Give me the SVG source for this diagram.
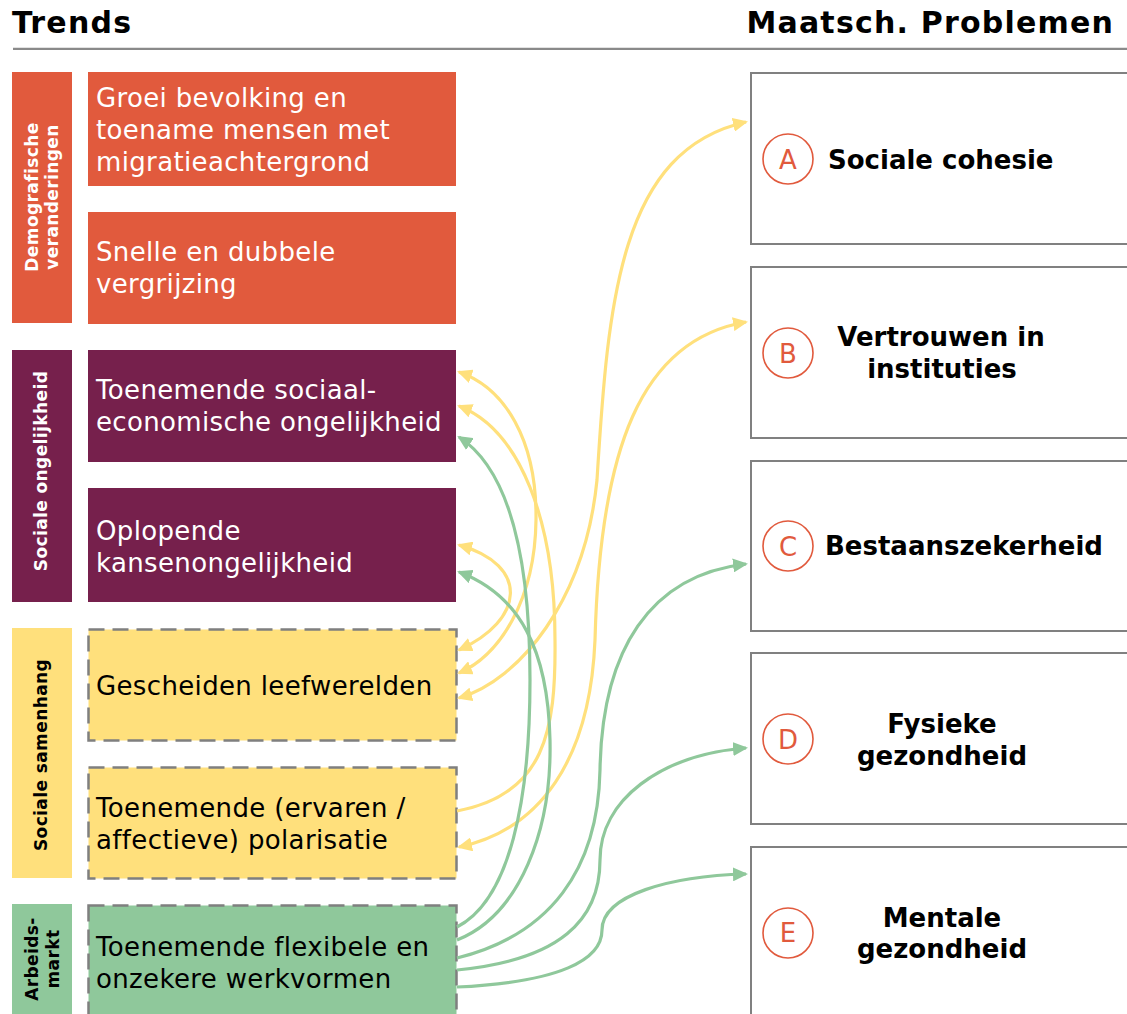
<svg xmlns="http://www.w3.org/2000/svg" width="1127" height="1014" viewBox="0 0 1127 1014">
<style>
.cat{font-family:"DejaVu Sans","Verdana",sans-serif;font-weight:bold;font-size:17px;letter-spacing:0.4px;fill:#fff;text-anchor:middle}
.catd{fill:#000}
.tr{font-family:"DejaVu Sans","Verdana",sans-serif;font-size:26px;letter-spacing:0.35px;fill:#fff}
.trd{fill:#000}
.pb{font-family:"DejaVu Sans","Verdana",sans-serif;font-weight:bold;font-size:26px;fill:#000}
.mid{text-anchor:middle}
.hd{font-family:"DejaVu Sans","Verdana",sans-serif;font-weight:bold;font-size:30px;letter-spacing:1.2px;fill:#000}
.box{fill:#fff;stroke:#808080;stroke-width:2}
.dash{stroke:#7f7f7f;stroke-width:2.5;stroke-dasharray:16 8}
.circ{fill:#fff;stroke:#E15A3D;stroke-width:1.6}
.let{font-family:"DejaVu Sans","Verdana",sans-serif;font-size:26px;fill:#E15A3D;text-anchor:middle}
.cy{fill:none;stroke:#FFE07C;stroke-width:3.2}
.cg{fill:none;stroke:#8FC89B;stroke-width:3.2}
</style>
<defs>
<marker id="ay" viewBox="0 0 15 14" refX="13" refY="7" markerWidth="15" markerHeight="14" markerUnits="userSpaceOnUse" orient="auto-start-reverse"><path d="M0,0 L15,7 L0,14 z" fill="#FFE07C"/></marker>
<marker id="ag" viewBox="0 0 15 14" refX="13" refY="7" markerWidth="15" markerHeight="14" markerUnits="userSpaceOnUse" orient="auto-start-reverse"><path d="M0,0 L15,7 L0,14 z" fill="#8FC89B"/></marker>
</defs>
<rect width="1127" height="1014" fill="#fff"/>

<g id="header">
<text class="hd" x="12" y="33">Trends</text>
<text class="hd" x="1114" y="33" text-anchor="end">Maatsch. Problemen</text>
<line x1="13" y1="48.8" x2="1127" y2="48.8" stroke="#8a8a8a" stroke-width="2.3"/>
</g>

<g id="cat-demografisch">
<rect x="12" y="72" width="60" height="251" fill="#E15A3D"/>
<g transform="translate(0,197) rotate(-90)"><text class="cat" x="0" y="38">Demografische</text><text class="cat" x="0" y="58">veranderingen</text></g>
</g>
<g id="cat-ongelijkheid">
<rect x="12" y="350" width="60" height="252" fill="#76204C"/>
<g transform="translate(0,471) rotate(-90)"><text class="cat" x="0" y="47">Sociale ongelijkheid</text></g>
</g>
<g id="cat-samenhang">
<rect x="12" y="628" width="60" height="250" fill="#FFE07C"/>
<g transform="translate(0,755) rotate(-90)"><text class="cat catd" x="0" y="47">Sociale samenhang</text></g>
</g>
<g id="cat-arbeidsmarkt">
<rect x="12" y="904" width="60" height="115" fill="#8FC89B"/>
<g transform="translate(0,959) rotate(-90)"><text class="cat catd" x="0" y="37.5">Arbeids-</text><text class="cat catd" x="0" y="58.5">markt</text></g>
</g>

<g id="t-groei">
<rect x="88" y="72" width="368" height="114" fill="#E15A3D"/>
<text class="tr" x="96" y="107">Groei bevolking en</text>
<text class="tr" x="96" y="139">toename mensen met</text>
<text class="tr" x="96" y="171">migratieachtergrond</text>
</g>
<g id="t-vergrijzing">
<rect x="88" y="212" width="368" height="112" fill="#E15A3D"/>
<text class="tr" x="96" y="261">Snelle en dubbele</text>
<text class="tr" x="96" y="293">vergrijzing</text>
</g>
<g id="t-sociaaleconomisch">
<rect x="88" y="350" width="368" height="112" fill="#76204C"/>
<text class="tr" x="96" y="399">Toenemende sociaal-</text>
<text class="tr" x="96" y="431">economische ongelijkheid</text>
</g>
<g id="t-kansen">
<rect x="88" y="488" width="368" height="114" fill="#76204C"/>
<text class="tr" x="96" y="540">Oplopende</text>
<text class="tr" x="96" y="572">kansenongelijkheid</text>
</g>
<g id="t-gescheiden">
<rect x="88.5" y="629.5" width="368" height="111" fill="#FFE07C" class="dash"/>
<text class="tr trd" x="96" y="695">Gescheiden leefwerelden</text>
</g>
<g id="t-polarisatie">
<rect x="88.5" y="767.5" width="368" height="111" fill="#FFE07C" class="dash"/>
<text class="tr trd" x="96" y="817">Toenemende (ervaren /</text>
<text class="tr trd" x="96" y="849">affectieve) polarisatie</text>
</g>
<g id="t-werkvormen">
<rect x="88.5" y="905.5" width="368" height="120" fill="#8FC89B" class="dash"/>
<text class="tr trd" x="96" y="956">Toenemende flexibele en</text>
<text class="tr trd" x="96" y="988">onzekere werkvormen</text>
</g>

<g id="p-A">
<rect class="box" x="751" y="73" width="400" height="171"/>
<circle class="circ" cx="788" cy="159" r="25"/>
<text class="let" x="788" y="168.5">A</text>
<text class="pb" x="828" y="169">Sociale cohesie</text>
</g>
<g id="p-B">
<rect class="box" x="751" y="267" width="400" height="171"/>
<circle class="circ" cx="788" cy="353" r="25"/>
<text class="let" x="788" y="362.5">B</text>
<text class="pb mid" x="941" y="346">Vertrouwen in</text>
<text class="pb mid" x="942" y="378">instituties</text>
</g>
<g id="p-C">
<rect class="box" x="751" y="461" width="400" height="170"/>
<circle class="circ" cx="788" cy="546" r="25"/>
<text class="let" x="788" y="555.5">C</text>
<text class="pb" x="825" y="555">Bestaanszekerheid</text>
</g>
<g id="p-D">
<rect class="box" x="751" y="653" width="400" height="171"/>
<circle class="circ" cx="788" cy="739" r="25"/>
<text class="let" x="788" y="748.5">D</text>
<text class="pb mid" x="942" y="733">Fysieke</text>
<text class="pb mid" x="942" y="765">gezondheid</text>
</g>
<g id="p-E">
<rect class="box" x="751" y="847" width="400" height="200"/>
<circle class="circ" cx="788" cy="933" r="25"/>
<text class="let" x="788" y="942">E</text>
<text class="pb mid" x="942" y="927">Mentale</text>
<text class="pb mid" x="942" y="958">gezondheid</text>
</g>

<g id="connectors">
<path class="cy" d="M459,673 C500,655 535,600 536,520 C537,440 505,388 459,372" marker-start="url(#ay)" marker-end="url(#ay)"/>
<path class="cy" d="M457,811 C545,795 556,730 555,640 C555,520 520,430 459,406" marker-end="url(#ay)"/>
<path class="cy" d="M459,650 C525,620 530,565 459,545" marker-start="url(#ay)" marker-end="url(#ay)"/>
<path class="cy" d="M459,698 C520,680 585,600 597,480 C608,300 620,150 746,122" marker-start="url(#ay)" marker-end="url(#ay)"/>
<path class="cy" d="M459,847 C540,830 590,760 595,640 C600,450 640,340 746,322" marker-start="url(#ay)" marker-end="url(#ay)"/>
<path class="cg" d="M457,927 C510,900 530,800 530,680 C530,560 510,470 459,437" marker-end="url(#ag)"/>
<path class="cg" d="M457,940 C520,915 552,830 550,740 C548,650 520,595 459,572" marker-end="url(#ag)"/>
<path class="cg" d="M457,958 C550,935 598,870 600,770 C602,650 650,575 746,564" marker-end="url(#ag)"/>
<path class="cg" d="M457,970 C560,960 600,920 600,860 C600,800 660,755 746,748" marker-end="url(#ag)"/>
<path class="cg" d="M457,987 C560,982 602,960 602,930 C602,895 670,876 746,874" marker-end="url(#ag)"/>
</g>
</svg>
